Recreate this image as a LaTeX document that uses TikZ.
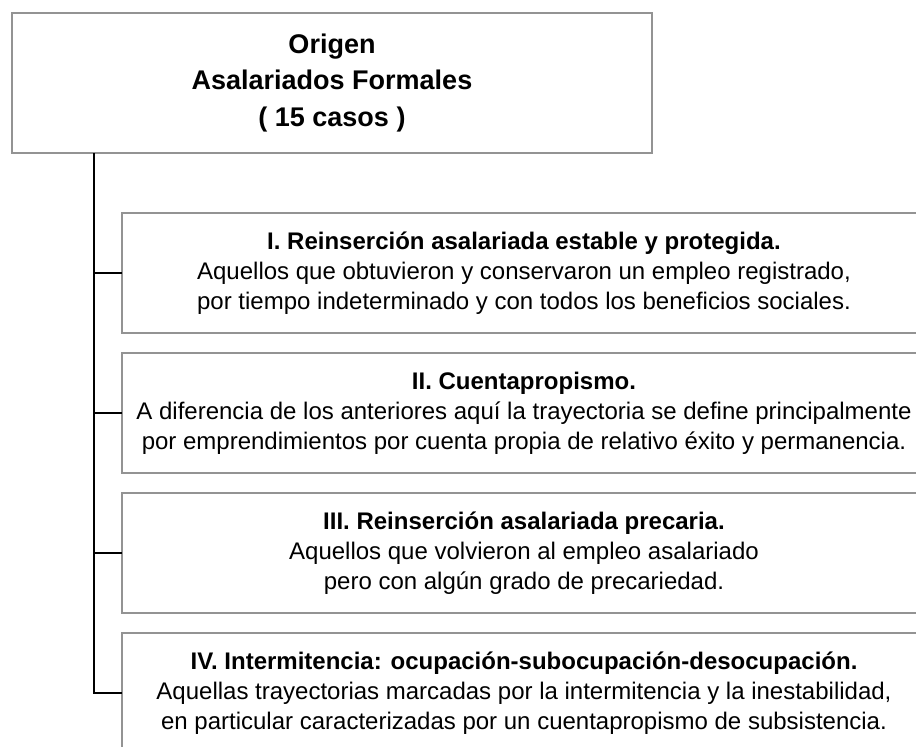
\documentclass[tikz,border=0pt]{standalone}
\usepackage{fontspec}
\setmainfont{Liberation Sans}
\begin{document}
\begin{tikzpicture}[x=1pt, y=-1pt, line width=1.5pt,
    caja/.style={draw=gray!85, line width=1.5pt, rectangle, inner sep=0pt, outer sep=0pt, align=center},
    tipo/.style={caja, minimum width=804pt, minimum height=120pt, font=\fontsize{24}{30}\selectfont}]
    \clip (0,0) rectangle (916,747);
    \node (n_origen) [caja, minimum width=640pt, minimum height=140pt, font=\bfseries\fontsize{27}{36.5}\selectfont] at (332, 83) {Origen\\Asalariados Formales\\( 15 casos )};
    \node (n_t1) [tipo] at (524, 273) {\textbf{I. Reinserción asalariada estable y protegida.}\\Aquellos que obtuvieron y conservaron un empleo registrado,\\por tiempo indeterminado y con todos los beneficios sociales.};
    \node (n_t2) [tipo] at (524, 413) {\textbf{II. Cuentapropismo.}\\A diferencia de los anteriores aquí la trayectoria se define principalmente\\por emprendimientos por cuenta propia de relativo éxito y permanencia.};
    \node (n_t3) [tipo] at (524, 553) {\textbf{III. Reinserción asalariada precaria.}\\Aquellos que volvieron al empleo asalariado\\pero con algún grado de precariedad.};
    \node (n_t4) [tipo] at (524, 693) {\textbf{IV. Intermitencia: ocupación-subocupación-desocupación.}\\Aquellas trayectorias marcadas por la intermitencia y la inestabilidad,\\en particular caracterizadas por un cuentapropismo de subsistencia.};

    \draw ([xshift=82pt]n_origen.south west) |- (n_t4.west);
    \foreach \t in {n_t1, n_t2, n_t3}
        \draw ([xshift=82pt]n_origen.south west) |- (\t.west);
\end{tikzpicture}
\end{document}
